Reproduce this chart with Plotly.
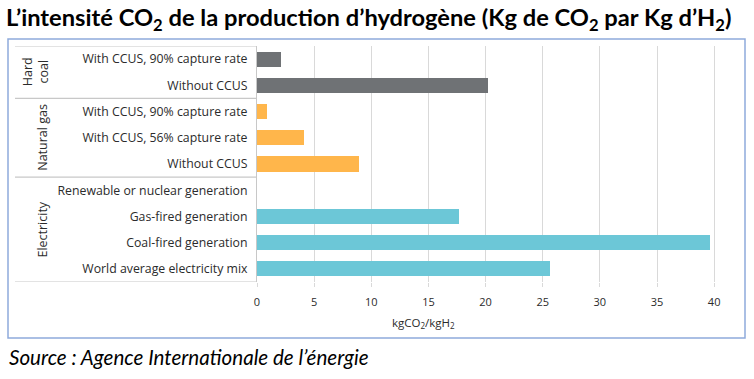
import plotly.graph_objects as go

# ---- data ----
groups = ["Hard<br>coal", "Natural gas", "Electricity"]
group_sizes = [2, 3, 4]
categories = [
    "With CCUS, 90% capture rate",
    "Without CCUS",
    "With CCUS, 90% capture rate",
    "With CCUS, 56% capture rate",
    "Without CCUS",
    "Renewable or nuclear generation",
    "Gas-fired generation",
    "Coal-fired generation",
    "World average electricity mix",
]
values = [2.1, 20.2, 0.9, 4.1, 8.9, 0.0, 17.7, 39.6, 25.6]
group_colors = ["#6f7275", "#ffb64b", "#6cc7d7"]
x_ticks = [0, 5, 10, 15, 20, 25, 30, 35, 40]

# ---- layout geometry (pixels) ----
W, H = 754, 379
PL, PR, PT, PB = 257, 737, 46, 282


def px(x):
    return (x - PL) / (PR - PL)


def py(y):
    return (PB - y) / (PB - PT)


idx = list(range(len(categories)))
colors = []
for g, n in enumerate(group_sizes):
    colors += [group_colors[g]] * n

fig = go.Figure(
    go.Bar(
        x=values,
        y=idx,
        orientation="h",
        marker=dict(color=colors, line=dict(width=0)),
        width=0.58,
        hoverinfo="x",
    )
)

font_lbl = "Open Sans, sans-serif"
txt_col = "#2b2b2b"

shapes = []
annotations = []

# group dividers and group labels
start = 0
bounds = [-0.5]
for g, n in enumerate(group_sizes):
    mid = start + (n - 1) / 2
    annotations.append(dict(
        x=px(35 if g == 0 else 43), xref="paper", y=mid, yref="y",
        text=groups[g], textangle=-90, showarrow=False,
        font=dict(family=font_lbl, size=12.5, color=txt_col),
        xanchor="center", yanchor="middle",
    ))
    start += n
    bounds.append(start - 0.5)

for b in bounds:
    shapes.append(dict(
        type="line", xref="paper", yref="y",
        x0=px(15), x1=px(PL), y0=b, y1=b,
        line=dict(color="#c8c8c8", width=1.2),
    ))

# outer blue frame
shapes.append(dict(
    type="rect", xref="paper", yref="paper",
    x0=px(8), x1=px(745), y0=py(39), y1=py(338),
    line=dict(color="#8eaadb", width=1.5), layer="below",
))

# title
annotations.append(dict(
    x=px(4), y=py(19), xref="paper", yref="paper",
    xanchor="left", yanchor="middle", showarrow=False,
    text="L’intensité CO<sub>2</sub> de la production d’hydrogène (Kg de CO<sub>2</sub> par Kg d’H<sub>2</sub>)",
    font=dict(family="Lato, sans-serif", size=23.7, color="#000000", weight="bold"),
))
# x axis title
annotations.append(dict(
    x=px(423), y=py(323), xref="paper", yref="paper",
    xanchor="center", yanchor="middle", showarrow=False,
    text="kgCO<sub>2</sub>/kgH<sub>2</sub>",
    font=dict(family=font_lbl, size=11.5, color=txt_col),
))
# source
annotations.append(dict(
    x=px(7), y=py(357), xref="paper", yref="paper",
    xanchor="left", yanchor="middle", showarrow=False,
    text="<i>Source : Agence Internationale de l’énergie</i>",
    font=dict(family="Lato, sans-serif", size=20.6, color="#000000"),
))

fig.update_layout(
    width=W, height=H,
    margin=dict(l=PL, r=W - PR, t=PT, b=H - PB, autoexpand=False),
    paper_bgcolor="white", plot_bgcolor="white",
    showlegend=False,
    shapes=shapes, annotations=annotations,
    bargap=0,
)
fig.update_xaxes(
    range=[0, 42], tickvals=x_ticks, ticktext=[str(t) for t in x_ticks],
    showgrid=True, gridcolor="#d9d9d9", gridwidth=1,
    zeroline=False, showline=False,
    ticks="outside", ticklen=4, tickcolor="#d9d9d9",
    ticklabelstandoff=6,
    tickfont=dict(family=font_lbl, size=11, color=txt_col),
    fixedrange=True,
)
fig.update_yaxes(
    tickvals=idx, ticktext=categories, range=[8.5, -0.5],
    showgrid=False, zeroline=False,
    showline=True, linecolor="#c8c8c8", linewidth=1.2,
    ticks="", ticklabelstandoff=6,
    tickfont=dict(family=font_lbl, size=12.3, color=txt_col),
    fixedrange=True,
)

fig.write_html(
    "out.html",
    config={"displayModeBar": False},
    post_script="document.body.style.margin='0';document.body.style.overflow='hidden';",
)
